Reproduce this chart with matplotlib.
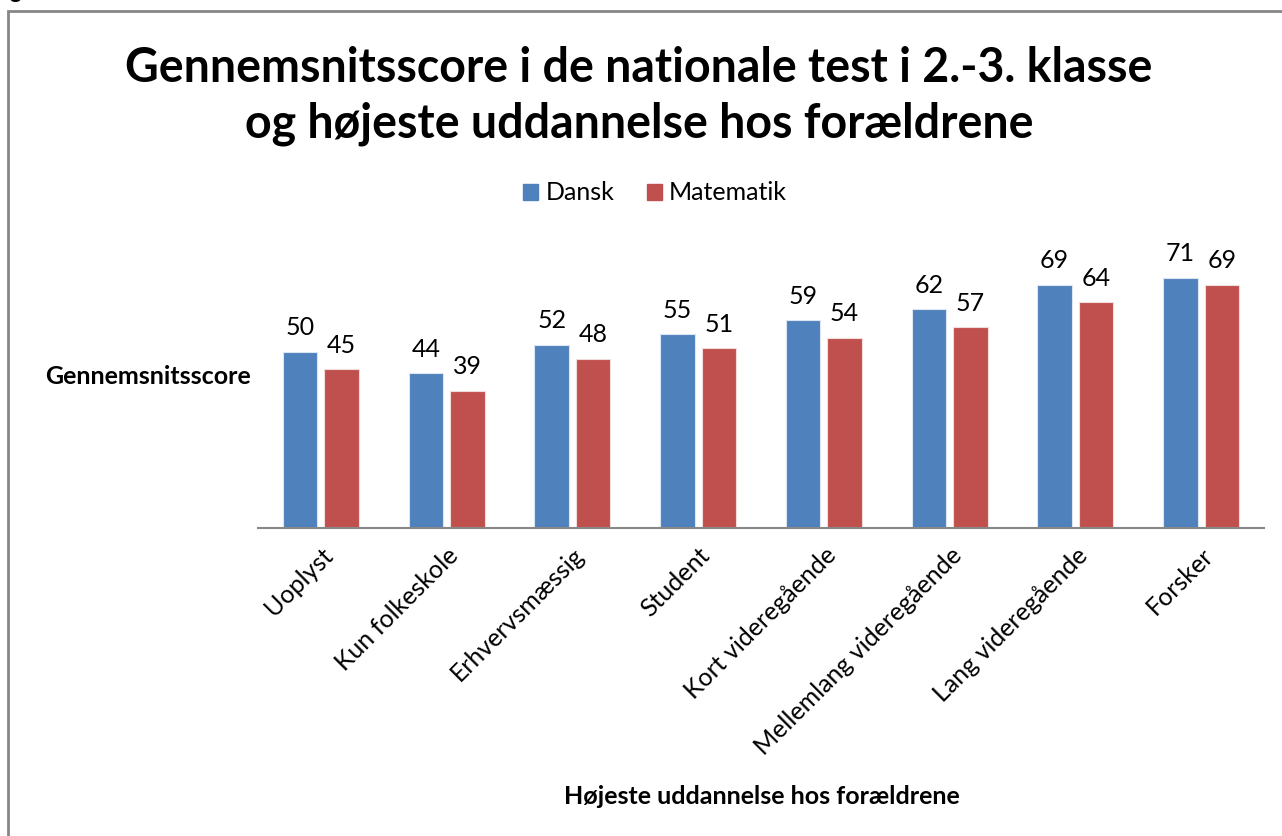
import matplotlib
matplotlib.use("Agg")
import matplotlib.pyplot as plt
from matplotlib.patches import Rectangle, Patch

categories = ["Uoplyst", "Kun folkeskole", "Erhvervsmæssig", "Student",
              "Kort videregående", "Mellemlang videregående", "Lang videregående", "Forsker"]
dansk = [50, 44, 52, 55, 59, 62, 69, 71]
matematik = [45, 39, 48, 51, 54, 57, 64, 69]
title = "Gennemsnitsscore i de nationale test i 2.-3. klasse\nog højeste uddannelse hos forældrene"
ylabel = "Gennemsnitsscore"
xlabel = "Højeste uddannelse hos forældrene"

plt.rcParams['font.family'] = ['Lato', 'DejaVu Sans']

W, H = 1282, 836
fig = plt.figure(figsize=(W/100, H/100), dpi=100)
fig.patch.set_facecolor('white')

# outer frame
fig.patches.append(Rectangle((8/W, -0.05), 1.2, 1 - 11/H + 0.05, transform=fig.transFigure,
                             fill=False, edgecolor='#868686', lw=2))
fig.text(10/W, 1 - 2/H, "g", fontsize=16, fontweight='bold', ha='left', va='bottom')

ax = fig.add_axes([258/W, 1 - 528/H, (1264-258)/W, (528-246)/H])
x = list(range(len(categories)))
bw = 0.275
off = 0.165
b1 = ax.bar([i - off for i in x], dansk, bw, color='#4F81BD', edgecolor='#dce6f2', lw=0.8, label='Dansk')
b2 = ax.bar([i + off for i in x], matematik, bw, color='#C0504D', edgecolor='#f2dcdb', lw=0.8, label='Matematik')
for bars, vals in ((b1, dansk), (b2, matematik)):
    for r, v in zip(bars, vals):
        ax.text(r.get_x() + r.get_width()/2, v + 3.5, str(v), ha='center', va='bottom', fontsize=18)

ax.set_xlim(-0.5, len(categories) - 0.5)
ax.set_ylim(0, 80)
ax.set_yticks([])
ax.set_xticks(x)
ax.set_xticklabels(categories, rotation=45, ha='right', rotation_mode='anchor', fontsize=18)
ax.tick_params(axis='x', length=0, pad=11)
for s in ('top', 'right', 'left'):
    ax.spines[s].set_visible(False)
ax.spines['bottom'].set_color('#888888')
ax.spines['bottom'].set_linewidth(1.5)

fig.text(762/W, 1 - 796/H, xlabel, fontsize=18, fontweight='bold', ha='center', va='center')
fig.text(148/W, 1 - 376/H, ylabel, fontsize=18, fontweight='bold', ha='center', va='center')
fig.text(639/W, 1 - 96/H, title, fontsize=33.5, fontweight='bold', ha='center', va='center',
         linespacing=1.3)

handles = [Patch(color='#4F81BD', label='Dansk'), Patch(color='#C0504D', label='Matematik')]
fig.legend(handles=handles, loc='center', bbox_to_anchor=(655/W, 1 - 193/H), ncol=2,
           frameon=False, fontsize=18, handlelength=0.6, handleheight=0.6,
           handletextpad=0.3, columnspacing=1.3)

fig.savefig("out.png", dpi=100)
